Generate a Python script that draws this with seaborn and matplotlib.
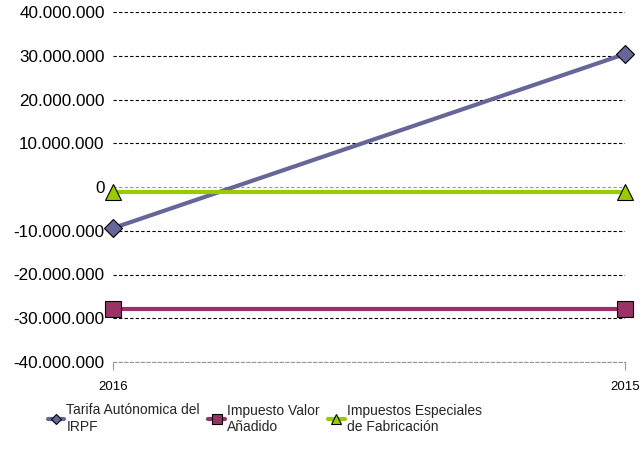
import numpy as np
import pandas as pd
import seaborn as sns
import matplotlib.pyplot as plt
from matplotlib.ticker import FuncFormatter

years = ['2016', '2015']
series = ['Tarifa Autónomica del\nIRPF', 'Impuesto Valor\nAñadido', 'Impuestos Especiales\nde Fabricación']
irpf = [-9400000, 30400000]
iva = [-27900000, -27900000]
especiales = [-1100000, -1100000]

colors = ['#666699', '#993366', '#99CC00']
markers = ['D', 's', '^']
marker_sizes = [9, 12, 12]

rows = []
for name, vals in zip(series, [irpf, iva, especiales]):
    for i, (yr, v) in enumerate(zip(years, vals)):
        rows.append({'serie': name, 'year': yr, 'pos': i, 'valor': v})
df = pd.DataFrame(rows)

sns.set_style('white')
plt.rcParams['font.family'] = ['Liberation Sans', 'DejaVu Sans']

fig = plt.figure(figsize=(6.43, 4.66), dpi=100)
ax = fig.add_axes([113 / 643, 1 - 362 / 466, 512 / 643, 350 / 466])

for name, c, m, ms in zip(series, colors, markers, marker_sizes):
    sub = df[df['serie'] == name]
    sns.lineplot(data=sub, x='pos', y='valor', ax=ax, color=c, linewidth=3,
                 marker=m, markersize=ms, markerfacecolor=c, markeredgecolor='black',
                 markeredgewidth=0.8, label=name, clip_on=False, zorder=3)

ax.set_xlim(0, 1)
ax.set_ylim(-40000000, 40000000)
ax.set_yticks(np.arange(-40000000, 40000001, 10000000))
ax.yaxis.set_major_formatter(FuncFormatter(lambda v, p: f'{v:,.0f}'.replace(',', '.')))
ax.set_xticks([0, 1])
ax.set_xticklabels(years)
ax.set_xlabel('')
ax.set_ylabel('')

ax.grid(axis='y', color='black', linestyle=(0, (3, 2)), linewidth=0.8, zorder=0)
ax.set_axisbelow(True)
for v, gl in zip(ax.get_yticks(), ax.yaxis.get_gridlines()):
    if v == 0:
        gl.set_color('#999999')

for s in ['top', 'right', 'left']:
    ax.spines[s].set_visible(False)
ax.spines['bottom'].set_color('#999999')
ax.spines['bottom'].set_linestyle((0, (3, 2)))
ax.spines['bottom'].set_linewidth(0.8)

ax.tick_params(axis='y', length=0, pad=6, labelsize=12.3, labelcolor='black')
ax.tick_params(axis='x', bottom=True, direction='out', length=6, color='#999999', width=0.8,
               pad=8, labelsize=9.5, labelcolor='black')

handles, labels = ax.get_legend_handles_labels()
ax.get_legend().remove()
fig.legend(handles, labels, loc='upper left', bbox_to_anchor=(35 / 643, 1 - 391 / 466),
           ncol=3, frameon=False, handlelength=1.2, handletextpad=0.15,
           columnspacing=0.6, fontsize=10, markerscale=0.55, labelspacing=0.2)

fig.savefig('out.png', dpi=100)
